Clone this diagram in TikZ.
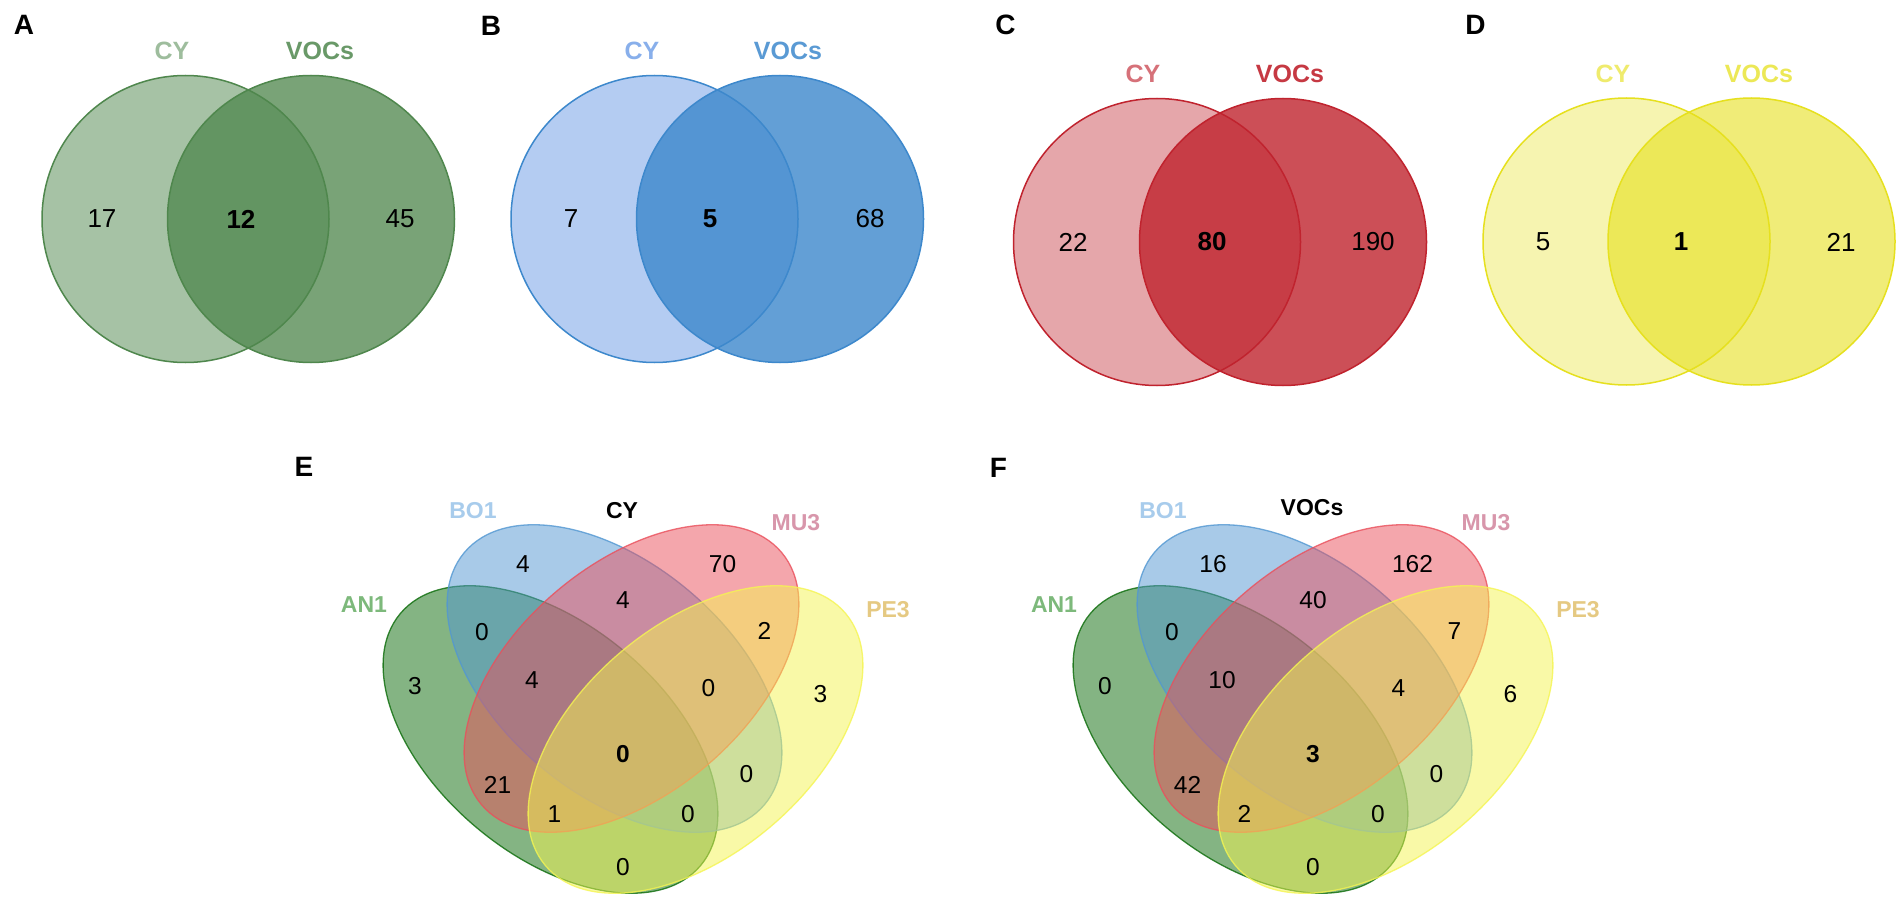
\documentclass[tikz,border=0pt]{standalone}
\usepackage{fontspec}
\setmainfont{Liberation Sans}
\usetikzlibrary{positioning}

\definecolor{agreen}{HTML}{4F874D}
\definecolor{bblueL}{HTML}{6A9BE6}
\definecolor{bblue}{HTML}{3D88CC}
\definecolor{credL}{HTML}{CC4E57}
\definecolor{cred}{HTML}{C0232E}
\definecolor{dyel}{HTML}{E6E01E}
\definecolor{qgreen}{HTML}{0A6B08}
\definecolor{qblue}{HTML}{5297D2}
\definecolor{qred}{HTML}{EA4F5B}
\definecolor{qyel}{HTML}{F5F551}
\definecolor{antext}{HTML}{7DB97B}
\definecolor{botext}{HTML}{A8CCEC}
\definecolor{mutext}{HTML}{D896AB}
\definecolor{petext}{HTML}{E5C982}

\tikzset{
  panel/.style={font=\fontsize{28}{30}\selectfont\bfseries, inner sep=0pt},
  setname/.style={font=\fontsize{25}{27}\selectfont\bfseries, inner sep=0pt},
  count/.style={font=\fontsize{26}{28}\selectfont, inner sep=0pt},
  qname/.style={font=\fontsize{23}{25}\selectfont\bfseries, inner sep=0pt},
  qcount/.style={font=\fontsize{24.5}{26}\selectfont, inner sep=0pt},
  pair/.style={line width=1.5pt},
  quad/.style={line width=1.3pt, draw opacity=.8, fill opacity=.5},
}

\begin{document}
\begin{tikzpicture}[x=1pt,y=-1pt]
\useasboundingbox (0,0) rectangle (1904,904);
\fill[white] (0,0) rectangle (1904,904);

% A
\draw[pair, fill=agreen, fill opacity=.5, draw=agreen] (185.5,219) circle[radius=143.5pt];
\draw[pair, fill=agreen, fill opacity=.76, draw=agreen] (311,219) circle[radius=143.5pt];
\node[panel] (pa) at (24,25) {A};
\node[setname, text=agreen!55] (a-cy) at (172,51) {CY};
\node[setname, text=agreen!85] (a-voc) at (320,51) {VOCs};
\node[count] (a-1) at (102,219) {17};
\node[count, font=\fontsize{26}{28}\selectfont\bfseries] (a-12) at (241,219) {12};
\node[count] (a-2) at (400,219) {45};

% B
\draw[pair, fill=bblueL, fill opacity=.5, draw=bblue] (654.5,219) circle[radius=143.5pt];
\draw[pair, fill=bblue, fill opacity=.8, draw=bblue] (780,219) circle[radius=143.5pt];
\node[panel] (pb) at (491,26) {B};
\node[setname, text=bblueL!80] (b-cy) at (642,51) {CY};
\node[setname, text=bblue!85] (b-voc) at (788,51) {VOCs};
\node[count] (b-1) at (571,219) {7};
\node[count, font=\fontsize{26}{28}\selectfont\bfseries] (b-12) at (710,219) {5};
\node[count] (b-2) at (870,219) {68};

% C
\draw[pair, fill=credL, fill opacity=.5, draw=cred] (1157,242) circle[radius=143.5pt];
\draw[pair, fill=cred, fill opacity=.8, draw=cred] (1283,242) circle[radius=143.5pt];
\node[panel] (pc) at (1005.5,25) {C};
\node[setname, text=credL!80] (c-cy) at (1143,74) {CY};
\node[setname, text=cred!90] (c-voc) at (1290,74) {VOCs};
\node[count] (c-1) at (1073,242) {22};
\node[count, font=\fontsize{26}{28}\selectfont\bfseries] (c-12) at (1212,242) {80};
\node[count] (c-2) at (1373,242) {190};

% D
\draw[pair, fill=dyel, fill opacity=.35, draw=dyel] (1626.5,241.5) circle[radius=143.5pt];
\draw[pair, fill=dyel, fill opacity=.6, draw=dyel] (1751.5,241.5) circle[radius=143.5pt];
\node[panel] (pd) at (1475.5,25) {D};
\node[setname, text=dyel!65] (d-cy) at (1613,74) {CY};
\node[setname, text=dyel!75] (d-voc) at (1759,74) {VOCs};
\node[count] (d-1) at (1543,242) {5};
\node[count, font=\fontsize{26}{28}\selectfont\bfseries] (d-12) at (1681,242) {1};
\node[count] (d-2) at (1841,242) {21};

% E
\draw[quad, fill=qgreen, draw=qgreen, rotate around={-40:(550.5,739.5)}] (550.5,739.5) ellipse [x radius=196pt, y radius=115pt];
\draw[quad, fill=qblue, draw=qblue, rotate around={-40:(614.5,678.5)}] (614.5,678.5) ellipse [x radius=196pt, y radius=115pt];
\draw[quad, fill=qred, draw=qred, rotate around={40:(631.5,678.5)}] (631.5,678.5) ellipse [x radius=196pt, y radius=115pt];
\draw[quad, fill=qyel, draw=qyel, rotate around={40:(695.5,739.5)}] (695.5,739.5) ellipse [x radius=196pt, y radius=115pt];
\node[panel] (pe) at (304,467) {E};
\node[qname, text=antext] (e-an) at (364,605) {AN1};
\node[qname, text=botext] (e-bo) at (473,511) {BO1};
\node[qname] (e-set) at (622,511) {CY};
\node[qname, text=mutext] (e-mu) at (796,523) {MU3};
\node[qname, text=petext] (e-pe) at (888,610) {PE3};
\node[qcount] (e-b) at (523,564) {4};
\node[qcount] (e-m) at (722.5,564) {70};
\node[qcount] (e-bm) at (623,600.5) {4};
\node[qcount] (e-ab) at (482,632.5) {0};
\node[qcount] (e-mp) at (764.5,631) {2};
\node[qcount] (e-a) at (415,686) {3};
\node[qcount] (e-abm) at (532,680.5) {4};
\node[qcount] (e-bmp) at (708.5,688) {0};
\node[qcount] (e-p) at (820.5,694) {3};
\node[qcount, font=\fontsize{24.5}{26}\selectfont\bfseries] (e-all) at (623,754) {0};
\node[qcount] (e-am) at (497.5,784.5) {21};
\node[qcount] (e-bp) at (746.5,774) {0};
\node[qcount] (e-amp) at (554.5,814) {1};
\node[qcount] (e-abp) at (688,814) {0};
\node[qcount] (e-ap) at (623,867.5) {0};

% F
\begin{scope}[xshift=690pt]
\draw[quad, fill=qgreen, draw=qgreen, rotate around={-40:(550.5,739.5)}] (550.5,739.5) ellipse [x radius=196pt, y radius=115pt];
\draw[quad, fill=qblue, draw=qblue, rotate around={-40:(614.5,678.5)}] (614.5,678.5) ellipse [x radius=196pt, y radius=115pt];
\draw[quad, fill=qred, draw=qred, rotate around={40:(631.5,678.5)}] (631.5,678.5) ellipse [x radius=196pt, y radius=115pt];
\draw[quad, fill=qyel, draw=qyel, rotate around={40:(695.5,739.5)}] (695.5,739.5) ellipse [x radius=196pt, y radius=115pt];
\node[panel] (pf) at (308.5,468) {F};
\node[qname, text=antext] (f-an) at (364,605) {AN1};
\node[qname, text=botext] (f-bo) at (473,511) {BO1};
\node[qname] (f-set) at (622,508) {VOCs};
\node[qname, text=mutext] (f-mu) at (796,523) {MU3};
\node[qname, text=petext] (f-pe) at (888,610) {PE3};
\node[qcount] (f-b) at (523,564) {16};
\node[qcount] (f-m) at (722.5,564) {162};
\node[qcount] (f-bm) at (623,600.5) {40};
\node[qcount] (f-ab) at (482,632.5) {0};
\node[qcount] (f-mp) at (764.5,631) {7};
\node[qcount] (f-a) at (415,686) {0};
\node[qcount] (f-abm) at (532,680.5) {10};
\node[qcount] (f-bmp) at (708.5,688) {4};
\node[qcount] (f-p) at (820.5,694) {6};
\node[qcount, font=\fontsize{24.5}{26}\selectfont\bfseries] (f-all) at (623,754) {3};
\node[qcount] (f-am) at (497.5,784.5) {42};
\node[qcount] (f-bp) at (746.5,774) {0};
\node[qcount] (f-amp) at (554.5,814) {2};
\node[qcount] (f-abp) at (688,814) {0};
\node[qcount] (f-ap) at (623,867.5) {0};
\end{scope}
\end{tikzpicture}
\end{document}
